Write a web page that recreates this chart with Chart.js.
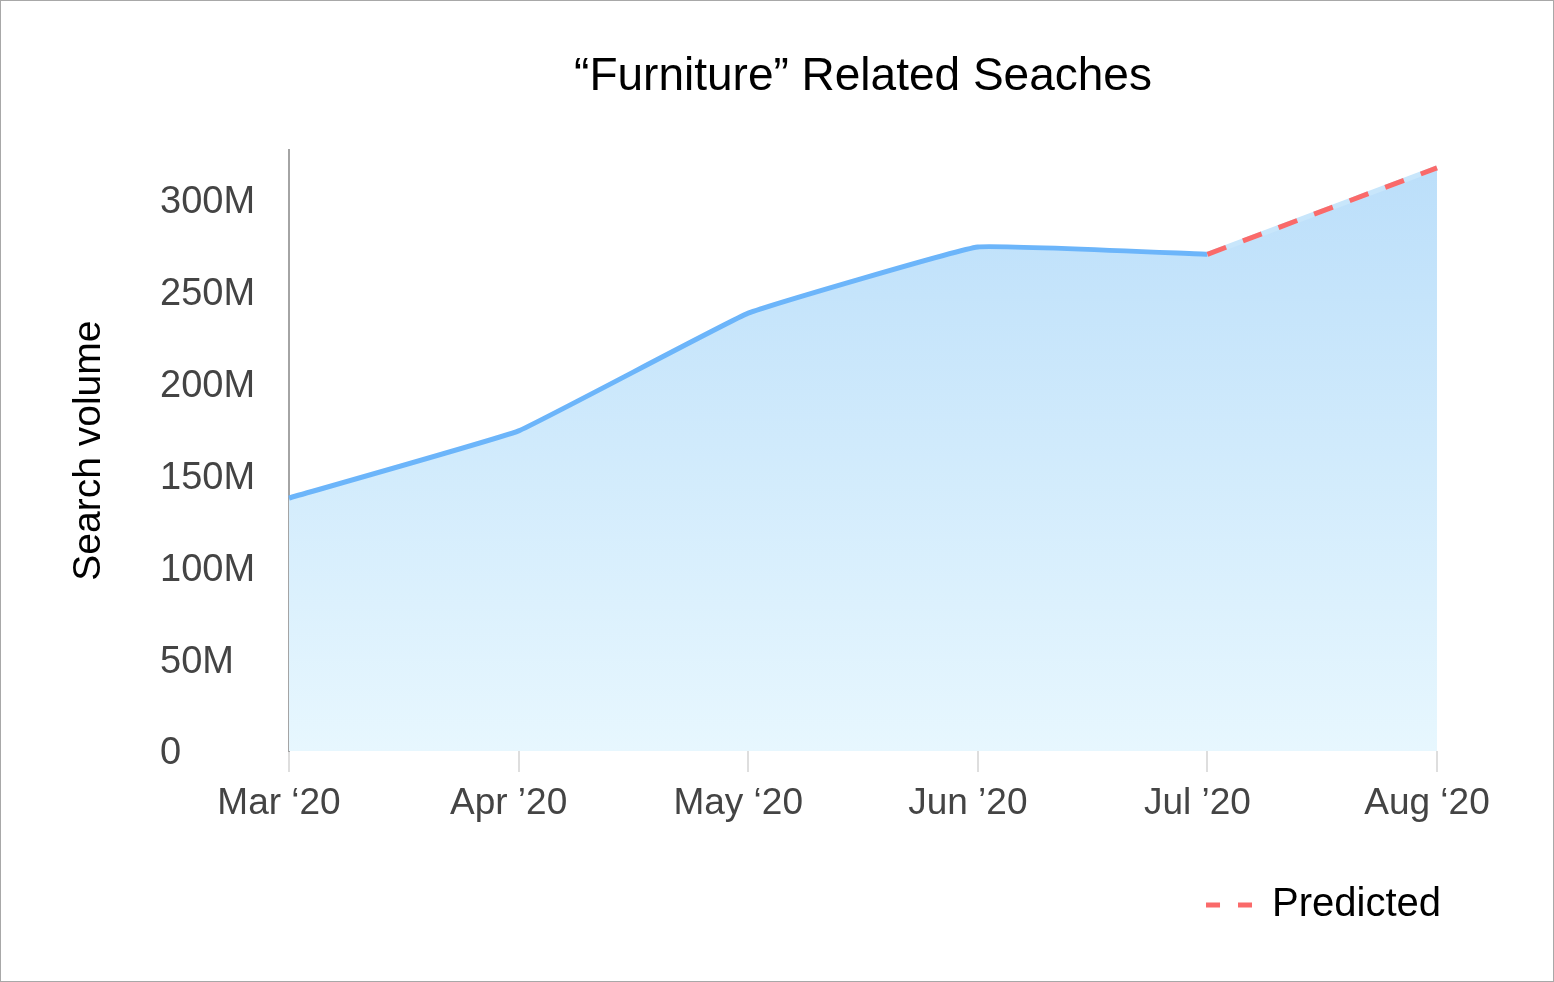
<!DOCTYPE html>
<html>
<head>
<meta charset="utf-8">
<script src="https://cdn.jsdelivr.net/npm/chart.js@4"></script>
<style>
  body { margin: 0; background: #fff; }
  #wrap { width: 1554px; height: 982px; box-sizing: border-box; border: 1px solid #a8a8a8; }
  canvas { display: block; }
</style>
</head>
<body>
<div id="wrap"><canvas id="furnitureChart" width="1552" height="980"></canvas></div>
<script>
const months = ['Mar ‘20', 'Apr ’20', 'May ‘20', 'Jun ’20', 'Jul ’20', 'Aug ‘20'];
// search volume in millions
const searchVolume = [137.5, 174, 238, 274, 270, 317];
const firstPredicted = 4; // Jul -> Aug is the prediction
const yTicksStep = 50;
const yMax = 326.6;

const FONT = "'Liberation Sans', Arial, Helvetica, sans-serif";
const blue = 'rgb(108, 181, 250)';
const red = 'rgb(250, 106, 106)';
const paleBlue = 'rgb(200, 230, 251)';

const actual = searchVolume.map((v, i) => (i <= firstPredicted ? v : null));
const predicted = searchVolume.map((v, i) => (i >= firstPredicted ? v : null));

function fillGradient(context) {
    const area = context.chart.chartArea;
    if (!area) return 'rgba(190, 225, 250, 1)';
    const g = context.chart.ctx.createLinearGradient(0, area.top, 0, area.bottom);
    g.addColorStop(0, 'rgb(186, 222, 250)');
    g.addColorStop(1, 'rgb(231, 247, 254)');
    return g;
}

const furnitureData = {
    labels: months,
    datasets: [
        {
            label: 'area',
            data: searchVolume,
            fill: 'origin',
            backgroundColor: fillGradient,
            borderWidth: 0,
            tension: 0.08,
            pointRadius: 0,
            order: 4
        },
        {
            label: 'Search volume',
            data: actual,
            fill: false,
            borderColor: blue,
            borderWidth: 5,
            tension: 0.08,
            pointRadius: 0,
            order: 3
        },
        {
            label: 'underlay',
            data: predicted,
            fill: false,
            borderColor: paleBlue,
            borderWidth: 5,
            pointRadius: 0,
            order: 2
        },
        {
            label: 'Predicted',
            data: predicted,
            fill: false,
            borderColor: red,
            borderWidth: 5,
            borderDash: [20, 18],
            pointRadius: 0,
            order: 1
        }
    ]
};

const furnitureConfig = {
    type: 'line',
    data: furnitureData,
    options: {
        responsive: false,
        devicePixelRatio: 1,
        animation: false,
        layout: { padding: { left: 0, right: 102, top: 0, bottom: 46 } },
        plugins: {
            title: {
                display: true,
                fullSize: false,
                text: '“Furniture” Related Seaches',
                color: '#000',
                font: { family: FONT, size: 46, weight: 'normal' },
                padding: { top: 49, bottom: 45 }
            },
            legend: {
                position: 'bottom',
                align: 'end',
                labels: {
                    color: '#000',
                    font: { family: FONT, size: 40 },
                    usePointStyle: true,
                    pointStyleWidth: 46,
                    padding: 10,
                    generateLabels: chart => [{
                        text: 'Predicted',
                        fillStyle: red,
                        strokeStyle: red,
                        lineWidth: 5,
                        lineDash: [14, 18],
                        pointStyle: 'line',
                        datasetIndex: 3
                    }]
                }
            },
            tooltip: { enabled: false }
        },
        scales: {
            x: {
                grid: { display: true, drawOnChartArea: false, drawTicks: true, tickLength: 21, color: '#dedede', lineWidth: 2 },
                border: { display: false },
                ticks: {
                    color: '#444',
                    font: { family: FONT, size: 37 },
                    padding: 10,
                    labelOffset: -10,
                    maxRotation: 0
                },
                afterFit: scale => { scale.height = 124; }
            },
            y: {
                min: 0,
                max: yMax,
                weight: 0,
                grid: { display: false, drawTicks: false },
                border: { display: true, color: '#a4a4a4', width: 2 },
                ticks: {
                    stepSize: yTicksStep,
                    crossAlign: 'far',
                    labelOffset: 3,
                    color: '#444',
                    font: { family: FONT, size: 38 },
                    callback: v => (v % yTicksStep === 0 ? (v === 0 ? '0' : v + 'M') : '')
                },
                afterFit: scale => { scale.width = 129; }
            },
            yTitle: {
                type: 'linear',
                position: 'left',
                weight: 1,
                display: true,
                grid: { display: false, drawTicks: false },
                border: { display: false },
                ticks: { display: false },
                title: {
                    display: true,
                    text: 'Search volume',
                    color: '#000',
                    font: { family: FONT, size: 39 },
                    padding: { top: 65, bottom: 0 }
                },
                afterFit: scale => { scale.width = 159; }
            },
            rightPad: {
                type: 'linear',
                position: 'right',
                display: true,
                grid: { display: false, drawTicks: false },
                border: { display: false },
                ticks: { display: false },
                afterFit: scale => { scale.width = 14; }
            }
        }
    }
};

const furnitureChart = new Chart(document.getElementById('furnitureChart'), furnitureConfig);
</script>
</body>
</html>
